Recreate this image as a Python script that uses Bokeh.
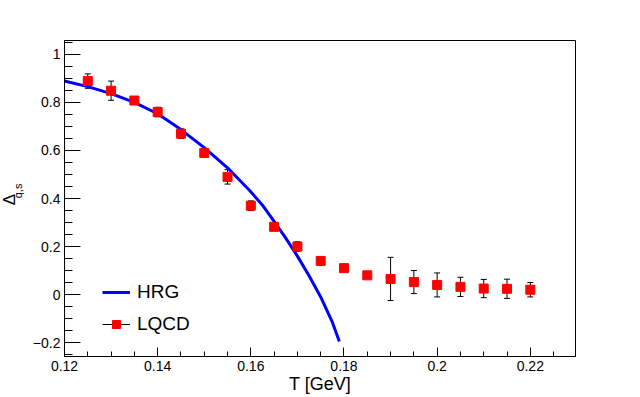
import math
from bokeh.plotting import figure
from bokeh.layouts import row
from bokeh.models import (Range1d, FixedTicker, Label, Legend, LegendItem,
                          Whisker, TeeHead, ColumnDataSource)
from bokeh.embed import file_html
from bokeh.resources import INLINE

# HRG curve
hrg_T = [0.120, 0.125, 0.130, 0.135, 0.140, 0.145, 0.150, 0.155, 0.160,
         0.1625, 0.165, 0.1675, 0.170, 0.1725, 0.175, 0.1775, 0.179]
hrg_D = [0.889, 0.866, 0.837, 0.800, 0.753, 0.687, 0.612, 0.528, 0.428,
         0.372, 0.305, 0.235, 0.160, 0.078, -0.010, -0.115, -0.196]

# LQCD points
lq_T = [0.125, 0.130, 0.135, 0.140, 0.145, 0.150, 0.155, 0.160, 0.165, 0.170,
        0.175, 0.180, 0.185, 0.190, 0.195, 0.200, 0.205, 0.210, 0.215, 0.220]
lq_D = [0.889, 0.849, 0.808, 0.760, 0.670, 0.590, 0.490, 0.370, 0.282, 0.200,
        0.140, 0.110, 0.080, 0.065, 0.052, 0.040, 0.032, 0.025, 0.024, 0.020]
lq_E = [0.030, 0.040, 0.010, 0.020, 0.020, 0.010, 0.030, 0.020, 0.010, 0.020,
        0.005, 0.005, 0.005, 0.090, 0.048, 0.050, 0.040, 0.038, 0.040, 0.030]

x_ticks = [0.12, 0.14, 0.16, 0.18, 0.20, 0.22]
x_labels = ["0.12", "0.14", "0.16", "0.18", "0.2", "0.22"]
y_ticks = [-0.2, 0.0, 0.2, 0.4, 0.6, 0.8, 1.0]
y_labels = ["\u22120.2", "0", "0.2", "0.4", "0.6", "0.8", "1"]

FONT = "Liberation Sans"
LABEL_W = 28

# ---- narrow figure holding the y-axis title ----
lab = figure(width=LABEL_W, height=397, x_range=Range1d(0, LABEL_W),
             y_range=Range1d(397, 0), x_axis_type=None, y_axis_type=None,
             min_border=0, output_backend="svg", toolbar_location=None)
lab.outline_line_color = None
lab.background_fill_color = "white"
lab.border_fill_color = "white"
lab.add_layout(Label(x=9, y=200, text="\u0394", text_font=FONT,
                     text_font_size="17px", angle=math.pi / 2,
                     text_align="center", text_baseline="middle",
                     text_color="black"))
lab.add_layout(Label(x=17, y=189, text="q,s", text_font=FONT,
                     text_font_size="11px", angle=math.pi / 2,
                     text_align="center", text_baseline="middle",
                     text_color="black"))

# ---- main figure ----
p = figure(x_range=Range1d(0.12, 0.2297), y_range=Range1d(-0.258, 1.058),
           frame_width=511, frame_height=316,
           min_border_left=64 - LABEL_W, min_border_right=65,
           min_border_top=40, min_border_bottom=41,
           output_backend="svg", toolbar_location=None)
p.grid.visible = False
p.outline_line_color = "black"
p.outline_line_width = 1
p.background_fill_color = "white"
p.border_fill_color = "white"

xminor = [round(0.12 + 0.005 * i, 4) for i in range(0, 23)]
yminor = [round(-0.25 + 0.05 * i, 4) for i in range(0, 27)]
p.xaxis.ticker = FixedTicker(ticks=x_ticks, minor_ticks=xminor)
p.yaxis.ticker = FixedTicker(ticks=y_ticks, minor_ticks=yminor)
p.xaxis.major_label_overrides = {t: l for t, l in zip(x_ticks, x_labels)}
p.yaxis.major_label_overrides = {t: l for t, l in zip(y_ticks, y_labels)}
for ax in (p.xaxis[0], p.yaxis[0]):
    ax.axis_line_color = "black"
    ax.major_tick_line_color = "black"
    ax.minor_tick_line_color = "black"
    ax.major_tick_out = 0
    ax.minor_tick_out = 0
    ax.major_label_text_font = FONT
    ax.major_label_text_font_size = "14px"
    ax.major_label_text_color = "black"
p.xaxis.major_tick_in = 9
p.xaxis.minor_tick_in = 5
p.yaxis.major_tick_in = 16
p.yaxis.minor_tick_in = 8
p.xaxis.major_label_standoff = 4
p.yaxis.major_label_standoff = 4
p.xaxis.axis_label = "T [GeV]"
p.xaxis.axis_label_text_font = FONT
p.xaxis.axis_label_text_font_size = "18px"
p.xaxis.axis_label_text_font_style = "normal"
p.xaxis.axis_label_text_color = "black"
p.xaxis.axis_label_standoff = 0

# HRG line
hrg = p.line(hrg_T, hrg_D, line_color="#0000ff", line_width=3)

# LQCD error bars + squares
src = ColumnDataSource(dict(x=lq_T, y=lq_D,
                            lo=[d - e for d, e in zip(lq_D, lq_E)],
                            hi=[d + e for d, e in zip(lq_D, lq_E)]))
wh = Whisker(source=src, base="x", lower="lo", upper="hi",
             line_color="black", line_width=1,
             upper_head=TeeHead(size=6, line_color="black", line_width=1),
             lower_head=TeeHead(size=6, line_color="black", line_width=1))
p.add_layout(wh)
sq = p.scatter("x", "y", source=src, marker="square", size=9,
               fill_color="#ff0000", line_color="#ff0000")
nan = float("nan")
dummy = p.line(x=[nan], y=[nan], line_color="black", line_width=1)

legend = Legend(items=[LegendItem(label="HRG", renderers=[hrg]),
                       LegendItem(label="LQCD", renderers=[dummy, sq])],
                location=(38, 21), orientation="vertical",
                label_text_font=FONT, label_text_font_size="19px",
                label_text_color="black",
                glyph_width=28, glyph_height=20, label_height=20,
                spacing=10, padding=0, margin=0, label_standoff=7,
                border_line_alpha=0, background_fill_alpha=0)
p.add_layout(legend)

layout = row(lab, p)
open("out.html", "w").write(file_html(layout, INLINE))
